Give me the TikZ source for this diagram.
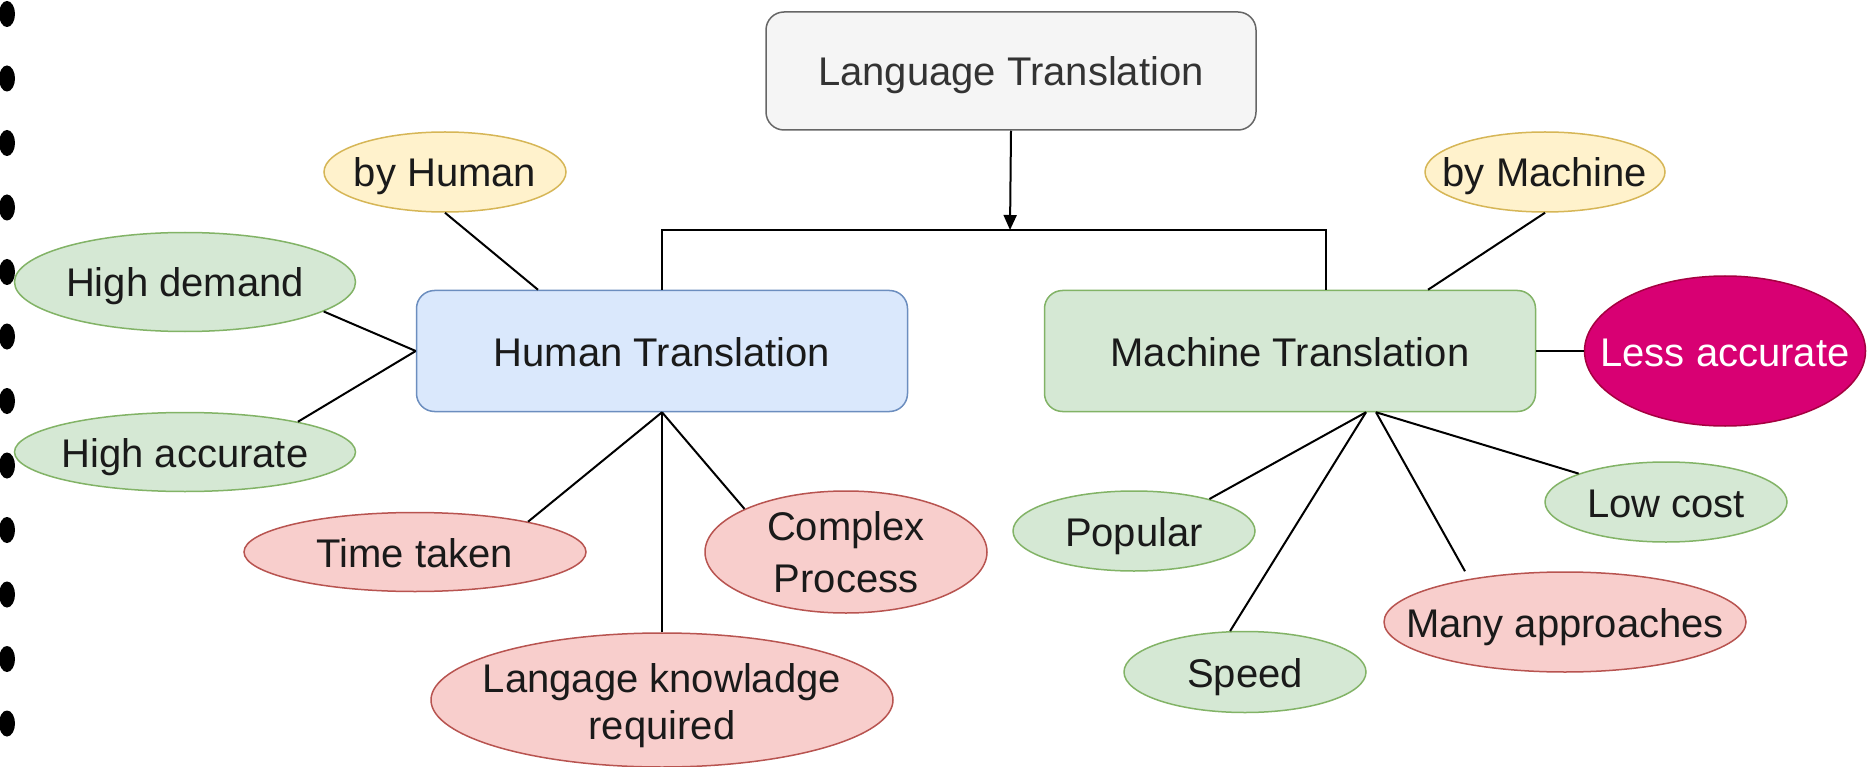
\documentclass[tikz,border=0pt]{standalone}
\usepackage{fontspec}
\setmainfont{Liberation Sans}
\usetikzlibrary{shapes.geometric,arrows.meta}

\definecolor{grayfill}{HTML}{F5F5F5}
\definecolor{graydraw}{HTML}{666666}
\definecolor{graytext}{HTML}{333333}
\definecolor{bluefill}{HTML}{DAE8FC}
\definecolor{bluedraw}{HTML}{6C8EBF}
\definecolor{greenfill}{HTML}{D5E8D4}
\definecolor{greendraw}{HTML}{82B366}
\definecolor{yellowfill}{HTML}{FFF2CC}
\definecolor{yellowdraw}{HTML}{D6B656}
\definecolor{redfill}{HTML}{F8CECC}
\definecolor{reddraw}{HTML}{B85450}
\definecolor{magentafill}{HTML}{D80073}
\definecolor{magentadraw}{HTML}{A50040}
\definecolor{textdark}{HTML}{1A1A1A}

\begin{document}
\begin{tikzpicture}[x=1pt,y=-1pt,
  labelfont/.style={font=\fontsize{40}{47}\selectfont},
  box/.style={rectangle, rounded corners=18pt, line width=1.5pt, inner sep=0pt},
  oval/.style={ellipse, line width=1.5pt, inner sep=0pt},
  % one-line captions share a common baseline offset
  txt/.style={labelfont, align=center, inner sep=0pt, text=textdark,
              text height=40pt, text depth=10pt},
  % two-line captions
  txtii/.style={labelfont, align=center, inner sep=0pt, text=textdark},
  greenoval/.style={oval, fill=greenfill, draw=greendraw},
  redoval/.style={oval, fill=redfill, draw=reddraw},
  yellowoval/.style={oval, fill=yellowfill, draw=yellowdraw},
  link/.style={line width=2pt, draw=black}
]
% page frame
\useasboundingbox (0,0) rectangle (1868,767);
\fill[white] (0,0) rectangle (1868,767);

% binding rings along the left edge
\foreach \k in {0,...,11}
  \fill[black] (7,14+64.5*\k) ellipse [x radius=8pt, y radius=13pt];

% main boxes
\node[box, fill=grayfill, draw=graydraw, minimum width=490pt, minimum height=118pt,
      label={[txt,text=graytext]center:Language Translation}] (lt) at (1011,71) {};
\node[box, fill=bluefill, draw=bluedraw, minimum width=491pt, minimum height=121pt,
      label={[txt]center:Human Translation}] (hum) at (662,351) {};
\node[box, fill=greenfill, draw=greendraw, minimum width=491pt, minimum height=121pt,
      label={[txt]center:Machine Translation}] (mt) at (1290,351) {};

% human side ovals
\node[yellowoval, minimum width=242pt, minimum height=80pt,
      label={[txt]center:by Human}] (bh) at (445,172) {};
\node[greenoval, minimum width=341pt, minimum height=99pt,
      label={[txt]center:High demand}] (hd) at (185,282) {};
\node[greenoval, minimum width=341pt, minimum height=79pt,
      label={[txt]center:High accurate}] (ha) at (185,452) {};
\node[redoval, minimum width=342pt, minimum height=79pt,
      label={[txt]center:Time taken}] (tt) at (415,552) {};
\node[redoval, minimum width=282pt, minimum height=122pt,
      label={[txtii,font=\fontsize{40}{52}\selectfont]center:{Complex\\Process}}] (cp) at (846,552) {};
\node[redoval, minimum width=462pt, minimum height=134pt,
      label={[txtii,yshift=-6pt]center:{Langage knowladge\\required}}] (lk) at (662,700) {};

% machine side ovals
\node[yellowoval, minimum width=240pt, minimum height=80pt,
      label={[txt]center:by Machine}] (bm) at (1545,172) {};
\node[oval, fill=magentafill, draw=magentadraw, minimum width=281pt, minimum height=150pt,
      label={[txt,text=white]center:Less accurate}] (la) at (1725,351) {};
\node[greenoval, minimum width=242pt, minimum height=80pt,
      label={[txt]center:Popular}] (pop) at (1134,531) {};
\node[greenoval, minimum width=242pt, minimum height=80pt,
      label={[txt]center:Low cost}] (lc) at (1666,502) {};
\node[greenoval, minimum width=242pt, minimum height=81pt,
      label={[txt]center:Speed}] (sp) at (1245,672) {};
\node[redoval, minimum width=362pt, minimum height=100pt,
      label={[txt]center:Many approaches}] (ma) at (1565,622) {};

% tree from the top box
\coordinate (fork) at (1010,230);
\coordinate (mtop) at ([xshift=36pt]mt.north);
\draw[link, -{Triangle[length=15pt,width=13pt]}] (lt.south) -- (fork);
\draw[link] (hum.north) |- (mtop |- fork) -- (mtop);

% human translation links
\draw[link] (bh.south) -- ([xshift=-124pt]hum.north);
\draw[link] (hd.-12) -- (hum.west);
\draw[link] (ha.15) -- (hum.west);
\draw[link] (tt.15) -- (hum.south);
\draw[link] (lk.north) -- (hum.south);
\draw[link] (cp.157) -- (hum.south);

% machine translation links
\coordinate (mb1) at ([xshift=76pt]mt.south);
\coordinate (mb2) at ([xshift=86pt]mt.south);
\draw[link] (bm.south) -- ([xshift=138pt]mt.north);
\draw[link] (mt.east) -- (la.west);
\draw[link] (pop.23) -- (mb1);
\draw[link] (sp.110) -- (mb1);
\draw[link] ([xshift=-100pt]ma.north) -- (mb2);
\draw[link] (lc.162) -- (mb2);
\end{tikzpicture}
\end{document}
